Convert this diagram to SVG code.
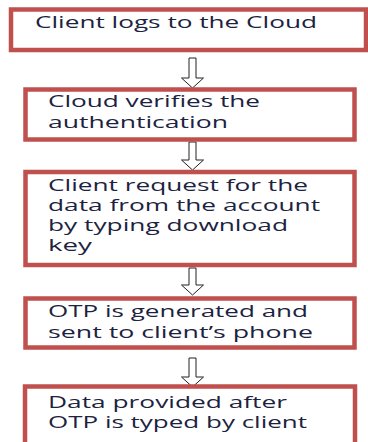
<svg xmlns="http://www.w3.org/2000/svg" width="368" height="442" viewBox="0 0 368 442">
<style>
.box{fill:#fff;stroke:#c0504d;stroke-width:4.5}
.sh{fill:none;stroke:#e6a9a7;stroke-width:1.5}
.t{font-family:"Open Sans","Liberation Sans",sans-serif;font-size:15.5px;fill:#1c2340}
.arr{fill:#fff;stroke:#222;stroke-width:1}
</style>
<rect width="368" height="442" fill="#fff"/>
<g id="connectors">
<path class="arr" d="M189,58 H196 V78 H203.5 L192.5,88 L181.5,78 H189 Z"/>
<path class="arr" d="M189,142 H196 V160 H203.5 L192.5,170 L181.5,160 H189 Z"/>
<path class="arr" d="M189,268 H196 V285 H203.5 L192.5,295 L181.5,285 H189 Z"/>
<path class="arr" d="M189,358 H196 V377 H203.5 L192.5,387 L181.5,377 H189 Z"/>
</g>
<g id="n1">
<rect class="box" x="11" y="9.5" width="355" height="40.5"/>
<text class="t" x="35" y="28" textLength="282" lengthAdjust="spacingAndGlyphs">Client logs to the Cloud</text>
</g>
<g id="n2">
<rect class="box" x="25.5" y="89.5" width="329" height="50"/>
<text class="t" x="48" y="107" textLength="212" lengthAdjust="spacingAndGlyphs">Cloud verifies the</text>
<text class="t" x="48" y="128" textLength="180" lengthAdjust="spacingAndGlyphs">authentication</text>
</g>
<g id="n3">
<rect class="box" x="25.5" y="172" width="329" height="93"/>
<text class="t" x="48" y="191" textLength="260" lengthAdjust="spacingAndGlyphs">Client request for the</text>
<text class="t" x="48" y="211" textLength="272" lengthAdjust="spacingAndGlyphs">data from the account</text>
<text class="t" x="48" y="231" textLength="240" lengthAdjust="spacingAndGlyphs">by typing download</text>
<text class="t" x="48" y="251" textLength="44" lengthAdjust="spacingAndGlyphs">key</text>
</g>
<g id="n4">
<rect class="box" x="25.5" y="298.5" width="329" height="49"/>
<text class="t" x="48" y="317" textLength="260" lengthAdjust="spacingAndGlyphs">OTP is generated and</text>
<text class="t" x="48" y="338" textLength="265" lengthAdjust="spacingAndGlyphs">sent to client’s phone</text>
</g>
<g id="n5">
<rect class="box" x="25" y="386.5" width="330" height="60"/>
<text class="t" x="48" y="408" textLength="239" lengthAdjust="spacingAndGlyphs">Data provided after</text>
<text class="t" x="48" y="428" textLength="259" lengthAdjust="spacingAndGlyphs">OTP is typed by client</text>
</g>
</svg>
